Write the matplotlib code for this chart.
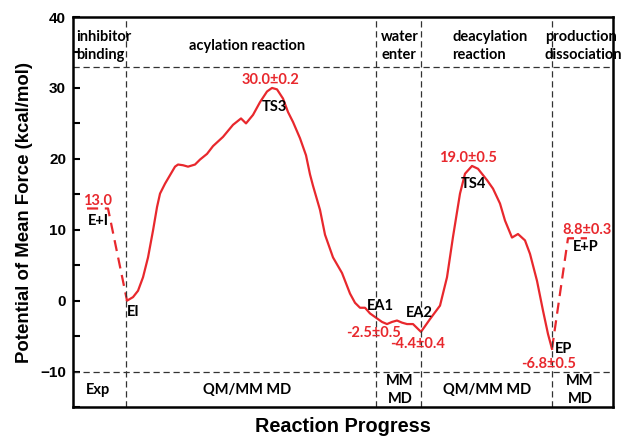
import numpy as np
import matplotlib
matplotlib.use("Agg")
import matplotlib.pyplot as plt

# reaction coordinate (arbitrary units) and PMF values, kcal/mol
x_pmf = [54, 60, 65, 70, 75, 80, 84, 87, 92, 97, 102, 105, 110, 115, 122, 127, 134, 140, 150, 160,
         168, 173, 180, 187, 194, 199, 204, 210, 215, 220, 227, 233, 237, 240, 247, 252, 260, 269,
         277, 282, 287, 292, 297, 304, 309, 314, 319, 324, 329, 334, 340, 348, 357, 367, 374, 380,
         387, 392, 399, 405, 414, 420, 427, 432, 439, 445, 452, 457, 464, 470, 475, 479]
y_pmf = [0.0, 0.5, 1.4, 3.3, 6.1, 9.9, 13.2, 15.1, 16.5, 17.7, 18.9, 19.2, 19.1, 18.9, 19.2, 19.9,
         20.7, 21.8, 23.1, 24.8, 25.7, 25.0, 26.2, 28.0, 29.5, 30.0, 29.8, 28.5, 26.6, 25.2, 22.9,
         20.5, 17.8, 16.2, 12.8, 9.3, 6.1, 3.9, 1.0, -0.3, -1.0, -1.0, -1.8, -2.5, -3.0, -3.3, -3.0,
         -2.8, -3.1, -3.3, -3.3, -4.4, -2.6, -0.7, 3.3, 9.0, 15.1, 17.9, 19.0, 18.6, 17.0, 15.8,
         13.7, 11.3, 8.9, 9.4, 8.5, 6.6, 2.8, -1.4, -4.7, -6.8]

# dashed (experimental / MM) legs
x_bind = [14, 35, 54]
y_bind = [13.0, 13.0, 0.0]
x_rel = [479, 495, 514]
y_rel = [-6.8, 8.8, 8.8]

# stage boundaries
x_bounds = [53, 303, 348, 479]
y_bounds = [33, -10]

# point labels: (text, x, y, colour)
point_labels = [
    ("13.0", 24, 14.1, "red"), ("E+I", 25, 11.2, "black"), ("EI", 60, -1.6, "black"),
    ("30.0±0.2", 197, 31.1, "red"), ("TS3", 201, 27.3, "black"),
    ("19.0±0.5", 395, 20.1, "red"), ("TS4", 400, 16.5, "black"),
    ("EA1", 307, -0.7, "black"), ("-2.5±0.5", 300, -4.5, "red"),
    ("EA2", 346, -1.8, "black"), ("-4.4±0.4", 345, -6.1, "red"),
    ("EP", 491, -6.8, "black"), ("-6.8±0.5", 476, -9.0, "red"),
    ("8.8±0.3", 514, 9.9, "red"), ("E+P", 513, 7.5, "black"),
]
stage_top = [("inhibitor\nbinding", 3, "left"), ("acylation reaction", 174, "center"),
             ("water\nenter", 308, "left"), ("deacylation\nreaction", 379, "left"),
             ("production\ndissociation", 472, "left")]
stage_bottom = [("Exp", 25), ("QM/MM MD", 174), ("MM\nMD", 327), ("QM/MM MD", 414), ("MM\nMD", 507)]

RED = "#e8282d"
ann_font = dict(family="Lato", fontweight="bold", fontsize=10.5)

fig = plt.figure(figsize=(6.21, 4.37), dpi=100)
ax = fig.add_axes([0.1176, 0.0686, 0.8695, 0.8924])

ax.plot(x_pmf, y_pmf, color=RED, lw=1.6, solid_joinstyle="round")
ax.plot(x_bind, y_bind, color=RED, lw=1.6, dashes=(5, 3))
ax.plot(x_rel, y_rel, color=RED, lw=1.6, dashes=(5, 3))

for xb in x_bounds:
    ax.axvline(xb, color="#333333", lw=0.9, dashes=(5, 3))
for yb in y_bounds:
    ax.axhline(yb, color="#333333", lw=0.9, dashes=(5, 3))

for txt, xx, yy, c in point_labels:
    ax.text(xx, yy, txt, color=RED if c == "red" else "black", ha="center", va="center", **ann_font)
for txt, xx, ha in stage_top:
    ax.text(xx, 35.9, txt, ha=ha, va="center", linespacing=1.3, **ann_font)
for txt, xx in stage_bottom:
    ax.text(xx, -12.6, txt, ha="center", va="center", linespacing=1.3, **ann_font)

ax.set_xlim(0, 540)
ax.set_ylim(-15, 40)
ax.set_xticks([])
ax.set_yticks([-10, 0, 10, 20, 30, 40])
ax.set_yticks([-15, -5, 5, 15, 25, 35], minor=True)
ax.tick_params(axis="y", which="both", direction="in", length=5, width=1.5, pad=5)
for lab in ax.get_yticklabels():
    lab.set_fontfamily("Liberation Sans")
    lab.set_fontweight("bold")
    lab.set_fontsize(11)
for sp in ax.spines.values():
    sp.set_linewidth(1.8)

fig.text(0.039, 0.514, "Potential of Mean Force (kcal/mol)", rotation=90, ha="center", va="center",
         family="Liberation Sans", fontweight="bold", fontsize=13.4)
fig.text(0.552, 0.012, "Reaction Progress", ha="center", va="baseline",
         family="Liberation Sans", fontweight="bold", fontsize=14.3)

fig.savefig("out.png", dpi=100)
